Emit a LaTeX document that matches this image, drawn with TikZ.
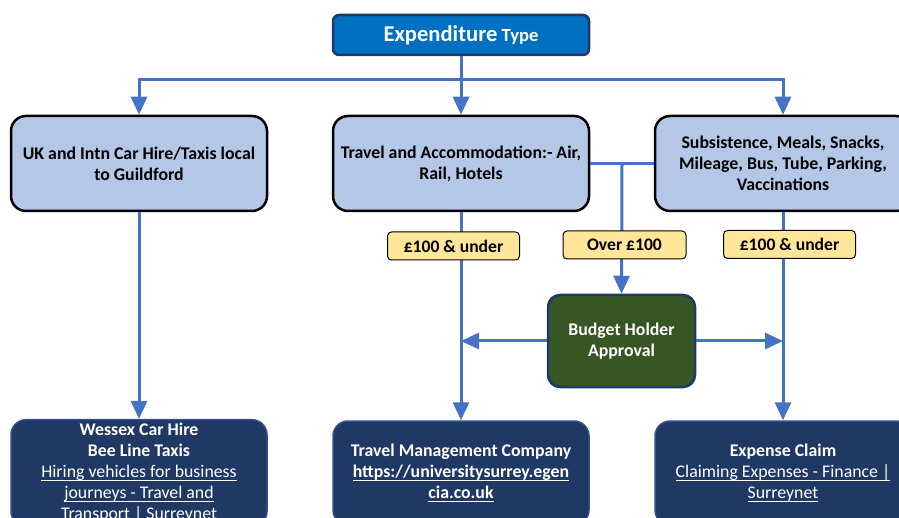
\documentclass[tikz,border=0pt]{standalone}
\usepackage{fontspec}
\setmainfont{Carlito}
\usetikzlibrary{arrows.meta,calc}

\definecolor{headblue}{HTML}{0070C0}
\definecolor{navyline}{HTML}{1F3864}
\definecolor{catblue}{HTML}{B4C7E7}
\definecolor{flowblue}{HTML}{4472C4}
\definecolor{tagyellow}{HTML}{FFE699}
\definecolor{okgreen}{HTML}{375623}
\definecolor{linkbox}{HTML}{203864}
\definecolor{linkline}{HTML}{2F528F}

\newcommand\ulink[1]{\setbox0\hbox{#1}\rlap{\vrule height -2.4pt depth 3.4pt width \wd0}\box0}

\tikzset{
  typebox/.style={draw=navyline, line width=2.5pt, fill=headblue, rounded corners=6pt,
    minimum width=256pt, minimum height=40pt, text=white, font=\bfseries},
  catbox/.style={draw=black, line width=2.5pt, fill=catblue, rounded corners=15pt,
    minimum width=256pt, minimum height=95pt, align=center,
    font=\bfseries\fontsize{17.8}{21}\selectfont},
  tagbox/.style={draw=black, line width=1pt, fill=tagyellow, rounded corners=4pt,
    minimum height=28pt, minimum width=132pt, font=\bfseries\fontsize{17.6}{20}\selectfont},
  okbox/.style={draw=navyline, line width=2.5pt, fill=okgreen, rounded corners=12pt,
    minimum width=147pt, minimum height=92pt, align=center, text=white,
    font=\bfseries\fontsize{17.8}{21}\selectfont},
  linkbox/.style={draw=linkline, line width=1.5pt, fill=linkbox, rounded corners=15pt,
    minimum width=256pt, minimum height=104pt, align=center, text=white,
    font=\fontsize{17.8}{21}\selectfont},
  flow/.style={draw=flowblue, line width=3pt, -{Triangle[width=16pt,length=18pt]}},
  plain/.style={draw=flowblue, line width=3pt}
}

\begin{document}
\begin{tikzpicture}[x=1pt, y=1pt]
\path[use as bounding box, clip] (0,0) rectangle (899,517);

\node [typebox] (type) at (461,482) {{\fontsize{22.6}{26}\selectfont Expenditure}\hspace{2pt} {\fontsize{18.6}{22}\selectfont Type}};
\node [catbox, below of=type, node distance=128.5pt] (travel) {Travel and Accommodation:- Air,\\Rail, Hotels};
\node [catbox, left of=travel, node distance=322pt] (carhire) {UK and Intn Car Hire/Taxis local\\to Guildford};
\node [catbox, right of=travel, node distance=322pt] (subs) {Subsistence, Meals, Snacks,\\Mileage, Bus, Tube, Parking,\\Vaccinations};
\node [linkbox, below of=travel, node distance=309.5pt] (tmc) {\textbf{Travel Management Company}\\\textbf{\ulink{https://universitysurrey.egen}}\\\textbf{\ulink{cia.co.uk}}};
\node [linkbox, left of=tmc, node distance=322pt] (wessex) {\textbf{Wessex Car Hire}\\\textbf{Bee Line Taxis}\\\ulink{Hiring vehicles for business}\\\ulink{journeys - Travel and}\\\ulink{Transport | Surreynet}};
\node [linkbox, right of=tmc, node distance=322pt] (claim) {\textbf{Expense Claim}\\\ulink{Claiming Expenses - Finance |}\\\ulink{Surreynet}};
\node [okbox] (budget) at (621.5,176) {Budget Holder\\Approval};
\coordinate (fork) at ($(travel.east)!0.5!(subs.west)$);

\draw [flow] (type.south) -- ++(0,-23) -| (carhire.north);
\draw [flow] (type.south) -- ++(0,-23) -| (subs.north);
\draw [flow] (type.south) -- (travel.north);
\draw [flow] (carhire.south) -- (wessex.north);
\draw [flow] (travel.south) -- (tmc.north);
\draw [flow] (subs.south) -- (claim.north);
\draw [plain] (travel.east) -- (subs.west);
\draw [flow] (fork) -- (budget.north);
\draw [flow] (budget.west) -- (budget.west -| travel);
\draw [flow] (budget.east) -- (budget.east -| subs);

\node [tagbox] (lowtravel) at (453.5,271) {£100 \& under};
\node [tagbox, minimum width=123pt] (over) at (624.5,272) {Over £100};
\node [tagbox] (lowsubs) at (789.5,272.5) {£100 \& under};
\end{tikzpicture}
\end{document}
